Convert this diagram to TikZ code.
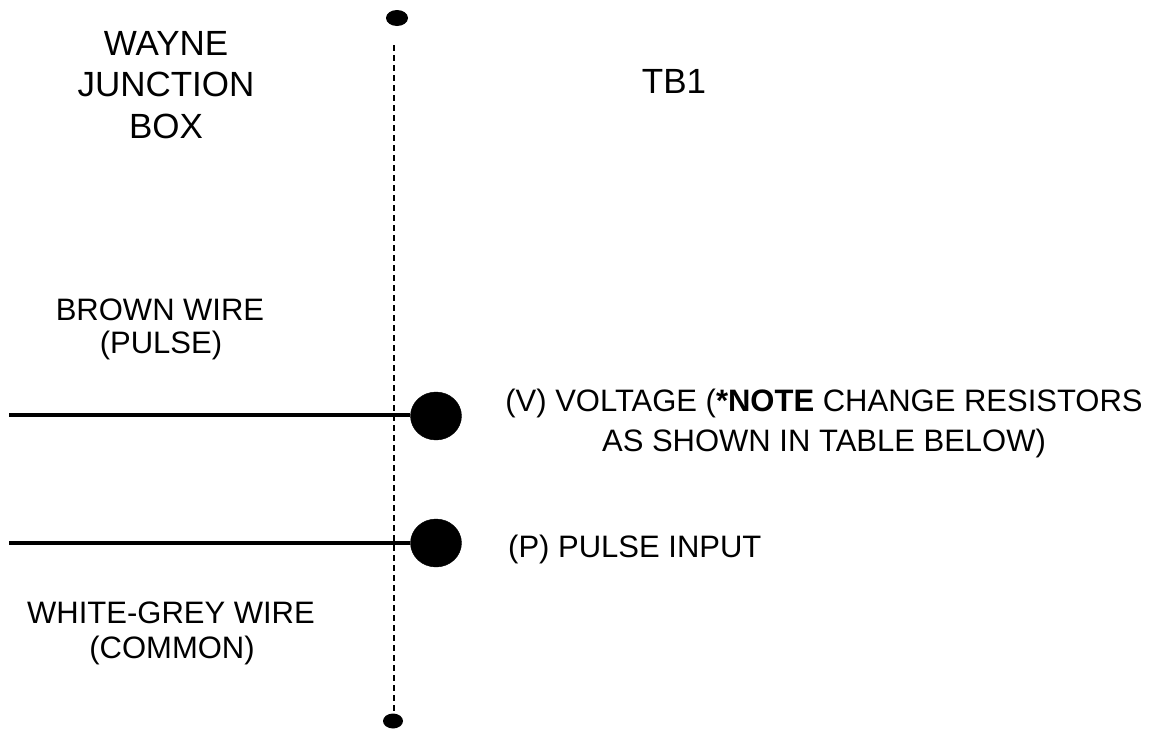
\documentclass[tikz,border=0pt]{standalone}
\usepackage{fontspec}
\setmainfont{Liberation Sans}
\usetikzlibrary{shapes.geometric}
\begin{document}
\begin{tikzpicture}[x=1pt,y=-1pt,
  hdr/.style={font=\fontsize{35}{42}\selectfont, anchor=base, inner sep=0pt},
  lbl/.style={font=\fontsize{31}{38}\selectfont, anchor=base, inner sep=0pt},
  term/.style={ellipse, fill=black, draw=black, minimum width=51pt, minimum height=48pt, inner sep=0pt},
  endpt/.style={ellipse, fill=black, inner sep=0pt},
  wire/.style={line width=3.2pt},
  bus/.style={line width=2.6pt, dash pattern=on 6pt off 4pt}]
\useasboundingbox (0,0) rectangle (1161,729);
% bus line
\node[endpt, minimum width=22pt, minimum height=16pt] (top) at (397,18) {};
\node[endpt, minimum width=20pt, minimum height=15pt] (bot) at (393,721) {};
\coordinate (bustop) at (394,45);
\coordinate (busbot) at (394,712);
\draw[bus] (bustop) -- (busbot);
% terminals
\node[term] (v) at (436,416) {};
\node[term] (p) at (436,543) {};
\coordinate (vin) at (9,415);
\coordinate (pin) at (9,543);
\draw[wire] (vin) -- (v.west |- vin);
\draw[wire] (pin) -- (p.west |- pin);
% texts
\node[hdr] (w1) at (166,55) {WAYNE};
\node[hdr] (w2) at (166,96) {JUNCTION};
\node[hdr] (w3) at (166,138) {BOX};
\node[hdr] (tb) at (674,93) {TB1};
\node[lbl] (b1) at (160,320) {BROWN WIRE};
\node[lbl] (b2) at (161,353) {(PULSE)};
\node[lbl] (g1) at (171,623) {WHITE-GREY WIRE};
\node[lbl] (g2) at (172,658) {(COMMON)};
\node[lbl] (vt1) at (824,411) {(V) VOLTAGE ({\bfseries *NOTE} CHANGE RESISTORS};
\node[lbl] (vt2) at (824,451) {AS SHOWN IN TABLE BELOW)};
\node[lbl, anchor=base west] (pt) at (508,557) {(P) PULSE INPUT};
\end{tikzpicture}
\end{document}
